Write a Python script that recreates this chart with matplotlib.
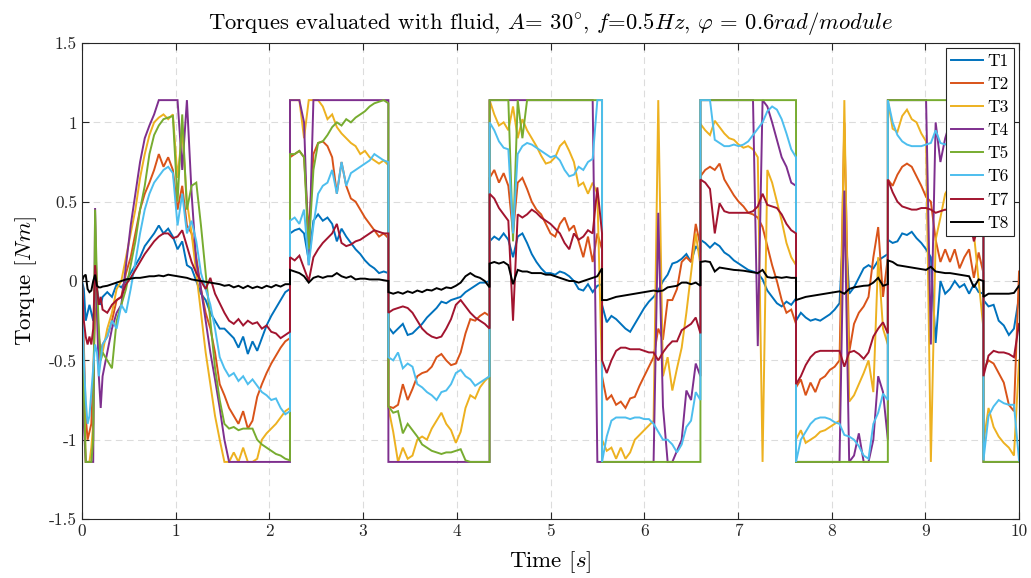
import numpy as np
import matplotlib
matplotlib.use("Agg")
import matplotlib.pyplot as plt

plt.rcParams['font.family'] = 'serif'
plt.rcParams['font.serif'] = ['cmr10', 'DejaVu Serif']
plt.rcParams['mathtext.fontset'] = 'cm'
plt.rcParams['axes.unicode_minus'] = False
plt.rcParams['axes.formatter.use_mathtext'] = True

# Segment boundaries in time [s]; each series is given as a list of segments,
# sampled uniformly between consecutive boundaries.
edges = [0, 0.22, 2.22, 3.27, 4.35, 5.55, 6.60, 7.62, 8.60, 9.62, 10.0]

T1 = [
    [0, -0.05, -0.25, -0.2, -0.15, -0.2, -0.25, -0.1, -0.05, -0.12, -0.15, -0.1],
    [-0.1, -0.07, -0.1, -0.02, -0.04, 0.0, 0.05, 0.1, 0.15, 0.22,
     0.26, 0.3, 0.35, 0.3, 0.33, 0.28, 0.2, 0.25, 0.1, 0.08,
     0.0, -0.08, -0.12, -0.2, -0.25, -0.3, -0.3, -0.33, -0.36, -0.42,
     -0.35, -0.46, -0.38, -0.44, -0.36, -0.28, -0.22, -0.17, -0.12, -0.07, -0.05],
    [0.3, 0.32, 0.33, 0.3, 0.13, 0.38, 0.42, 0.38, 0.4, 0.36,
     0.25, 0.33, 0.28, 0.24, 0.2, 0.17, 0.13, 0.1, 0.08, 0.05, 0.06, 0.05],
    [-0.29, -0.33, -0.3, -0.27, -0.34, -0.33, -0.3, -0.27, -0.23, -0.2,
     -0.17, -0.13, -0.14, -0.12, -0.11, -0.1, -0.07, -0.05, -0.03, -0.01, -0.01, 0.0],
    [0.25, 0.28, 0.26, 0.3, 0.26, 0.15, 0.28, 0.3, 0.24, 0.17,
     0.12, 0.08, 0.05, 0.05, 0.04, 0.06, 0.05, 0.03, 0.0, -0.05,
     -0.06, -0.02, -0.07, -0.03, -0.02],
    [-0.15, -0.26, -0.22, -0.24, -0.27, -0.3, -0.32, -0.27, -0.22, -0.17,
     -0.13, -0.1, -0.06, 0.0, 0.04, 0.11, 0.12, 0.14, 0.17, 0.12, 0.22, 0.18],
    [0.26, 0.24, 0.21, 0.24, 0.22, 0.18, 0.16, 0.13, 0.11, 0.09,
     0.07, 0.06, 0.05, 0.01, -0.06, -0.1, -0.14, -0.16, -0.13, -0.15, -0.11],
    [-0.25, -0.2, -0.23, -0.25, -0.24, -0.25, -0.23, -0.21, -0.18, -0.14,
     0.45, -0.08, -0.04, 0.02, 0.08, 0.1, 0.08, 0.13, 0.15, 0.17],
    [0.26, 0.24, 0.25, 0.3, 0.29, 0.31, 0.27, 0.24, 0.2, 0.15,
     -0.39, 0.0, -0.08, -0.05, 0.0, -0.04, -0.02, -0.08, -0.02, -0.07, -0.08],
    [-0.12, -0.16, -0.15, -0.25, -0.28, -0.34, -0.3, -0.1],
]

T2 = [
    [0, -0.4, -0.85, -1.0, -0.95, -0.9, -0.6, -0.2, -0.15, -0.35, -0.45, -0.4],
    [-0.4, -0.35, -0.25, -0.12, -0.1, 0.05, 0.15, 0.3, 0.45, 0.55,
     0.62, 0.7, 0.8, 0.72, 0.78, 0.7, 0.45, 0.6, 0.35, 0.3,
     0.15, -0.05, -0.2, -0.3, -0.45, -0.65, -0.72, -0.8, -0.85, -0.9,
     -0.82, -0.93, -0.88, -0.73, -0.65, -0.58, -0.52, -0.47, -0.42, -0.38, -0.36],
    [0.78, 0.8, 0.82, 0.78, 0.3, 0.8, 0.87, 0.88, 0.85, 0.78,
     0.55, 0.75, 0.6, 0.52, 0.5, 0.45, 0.4, 0.36, 0.32, 0.28, 0.3, 0.27],
    [-0.79, -0.8, -0.78, -0.65, -0.75, -0.68, -0.6, -0.58, -0.57, -0.54,
     -0.48, -0.46, -0.5, -0.53, -0.52, -0.45, -0.33, -0.24, -0.25, -0.22, -0.2, -0.22],
    [0.65, 0.7, 0.62, 0.68, 0.6, 0.3, 0.62, 0.65, 0.58, 0.5,
     0.45, 0.42, 0.36, 0.3, 0.28, 0.36, 0.4, 0.32, 0.35, 0.25,
     0.15, 0.28, 0.12, 0.3, 0.2],
    [-0.6, -0.75, -0.72, -0.78, -0.76, -0.8, -0.74, -0.73, -0.66, -0.6,
     -0.54, -0.48, -0.3, -0.37, -0.12, -0.12, -0.05, 0.12, 0.15, 0.12, 0.36, 0.22],
    [0.66, 0.7, 0.72, 0.7, 0.74, 0.64, 0.59, 0.54, 0.5, 0.47,
     0.43, 0.42, 0.4, 0.34, 0.22, 0.1, 0.0, -0.12, -0.2, -0.18, -0.27],
    [-0.67, -0.62, -0.72, -0.64, -0.7, -0.62, -0.6, -0.56, -0.54, -0.5,
     1.0, -0.45, -0.27, -0.2, -0.16, -0.1, 0.15, 0.34, -0.1, 0.15],
    [0.64, 0.6, 0.67, 0.72, 0.74, 0.72, 0.66, 0.6, 0.53, 0.5,
     0.26, 0.12, 0.2, 0.12, 0.2, 0.08, 0.15, 0.2, 0.02, 0.18, 0.05],
    [-0.56, -0.5, -0.52, -0.58, -0.64, -0.78, -0.82, 0.06],
]

T3 = [
    [0, -0.6, -1.14, -1.14, -1.14, -1.05, -0.9, 0.2, -0.1, -0.4, -0.5, -0.45],
    [-0.45, -0.3, -0.2, -0.05, 0.0, 0.15, 0.3, 0.45, 0.65, 0.8,
     0.92, 1.0, 1.03, 1.05, 1.02, 1.05, 0.65, 0.95, 0.5, 0.3,
     0.05, -0.2, -0.45, -0.65, -0.85, -1.0, -1.14, -1.14, -1.08, -1.14,
     -1.05, -1.14, -1.14, -1.12, -1.0, -0.96, -0.93, -0.9, -0.86, -0.82, -0.8],
    [1.14, 1.14, 1.14, 0.9, 1.14, 1.14, 1.14, 1.1, 1.02, 1.05,
     0.97, 0.93, 0.9, 0.87, 0.85, 0.8, 0.82, 0.78, 0.76, 0.74, 0.76, 0.73],
    [-0.8, -0.95, -1.14, -1.05, -1.12, -1.1, -1.0, -0.98, -1.0, -0.93,
     -0.88, -0.83, -0.9, -0.94, -1.02, -0.95, -0.8, -0.72, -0.74, -0.67, -0.63, -0.6],
    [1.14, 1.05, 0.98, 1.0, 0.95, 1.1, 0.9, 1.02, 0.95, 0.9,
     0.85, 0.79, 0.74, 0.75, 0.78, 0.85, 0.88, 0.82, 0.75, 0.6,
     0.62, 0.55, 0.62, 0.55, -0.6],
    [-1.0, -1.07, -1.05, -1.12, -1.05, -1.12, -1.08, -1.0, -0.97, -0.94,
     -0.91, -0.88, 1.14, -0.6, -0.48, -0.69, -0.55, -0.42, -0.2, 0.05, 0.3, 0.1],
    [0.99, 0.95, 0.92, 1.01, 0.97, 0.93, 0.9, 0.89, 0.86, 0.84,
     0.85, 0.83, 0.78, -1.14, 0.7, 0.62, 0.5, 0.38, 0.24, 0.15, 0.1],
    [-1.0, -0.94, -1.02, -1.0, -0.98, -0.95, -0.94, -0.92, -0.9, -0.88,
     1.14, -0.76, -0.72, -0.65, -0.58, -0.5, -0.7, 0.15, -0.3, -0.4],
    [1.14, 0.96, 0.94, 1.04, 1.08, 1.02, 1.0, 0.93, 0.88, -1.14,
     0.26, 0.4, 0.55, 0.6, 0.55, 0.5, 0.45, 0.4, 0.3, 0.0, -0.3],
    [-1.02, -0.8, -0.92, -0.98, -1.02, -1.05, -1.1, -0.5],
]

T4 = [
    [0, -0.9, -1.14, -1.14, -1.14, -1.14, -1.14, 0.46, -0.2, -0.6, -0.8, -0.6],
    [-0.6, -0.45, -0.3, -0.2, -0.15, 0.1, 0.35, 0.55, 0.75, 0.9,
     0.98, 1.05, 1.14, 1.14, 1.14, 1.14, 1.14, 0.7, 1.14, 0.55,
     0.12, -0.05, -0.25, -0.45, -0.62, -0.8, -1.0, -1.14] + [-1.14] * 13,
    [1.14, 1.14, 1.14, 1.0, 0.1, 1.14] + [1.14] * 16,
    [-1.14] * 22,
    [1.14] * 23 + [-1.14, -1.14],
    [-1.14] * 12 + [0.43, -0.79, -1.14, -1.14, -1.07, -1.0, -0.69, -0.75, -0.52, -0.6],
    [1.14] * 12 + [-0.41, 1.14, 1.1, 1.0, 0.89, 0.78, 0.72, 0.62, 0.6],
    [-1.14] * 10 + [0.57, -1.14, -1.1, -0.96, -1.14, -1.14, -1.0, -0.6, -0.7, -1.0],
    [1.14] * 9 + [-0.4, 1.0, 0.75, 0.9, 1.0, 1.05, 1.0, 0.95, 0.9, 0.8, 0.6, 0.5],
    [-1.14] * 8,
]

T5 = [
    [0, -0.7, -1.14, -1.14, -1.14, -1.14, -1.0, 0.45, 0.0, -0.3, -0.5, -0.45],
    [-0.45, -0.5, -0.55, -0.25, -0.15, -0.05, 0.1, 0.25, 0.45, 0.6,
     0.8, 0.92, 0.98, 1.02, 1.03, 1.04, 0.5, 1.05, 0.45, 0.6,
     0.62, 0.35, 0.05, -0.25, -0.55, -0.75, -0.9, -0.93, -0.92, -0.94,
     -0.93, -0.93, -0.93, -1.0, -1.03, -1.05, -1.07, -1.09, -1.1, -1.12, -1.13],
    [0.8, 0.8, 0.82, 0.78, 0.2, 0.7, 0.87, 0.88, 0.92, 0.97,
     1.0, 0.98, 1.02, 1.0, 1.03, 1.05, 1.07, 1.1, 1.12, 1.13, 1.14, 1.12],
    [-0.79, -0.83, -0.82, -0.96, -0.9, -0.94, -0.98, -1.03, -1.05, -1.07,
     -1.08, -1.09, -1.08, -1.08, -1.07, -1.06, -1.13, -1.14, -1.14, -1.14, -1.14, -1.14],
    [1.14] * 5 + [0.25, 1.14, 0.9] + [1.14] * 17,
    [-1.14] * 22,
    [1.14] * 21,
    [-1.14] * 20,
    [1.14] * 21,
    [-1.14] * 8,
]

T6 = [
    [0, -0.5, -0.75, -0.9, -0.85, -0.7, -0.55, -0.4, -0.45, -0.6, -0.5, -0.4],
    [-0.4, -0.35, -0.25, -0.3, -0.15, -0.2, -0.05, 0.12, 0.3, 0.45,
     0.55, 0.62, 0.66, 0.7, 0.72, 0.68, 0.35, 0.55, 0.3, 0.38,
     0.25, 0.05, -0.05, -0.15, -0.3, -0.48, -0.55, -0.6, -0.58, -0.63,
     -0.6, -0.65, -0.62, -0.66, -0.7, -0.72, -0.75, -0.74, -0.8, -0.84, -0.82],
    [0.38, 0.4, 0.36, 0.45, 0.1, 0.35, 0.55, 0.6, 0.62, 0.7,
     0.55, 0.75, 0.6, 0.68, 0.7, 0.72, 0.74, 0.76, 0.8, 0.78, 0.76, 0.75],
    [-0.48, -0.5, -0.45, -0.55, -0.52, -0.54, -0.65, -0.67, -0.7, -0.72,
     -0.75, -0.7, -0.69, -0.65, -0.58, -0.56, -0.6, -0.62, -0.66, -0.64, -0.62, -0.6],
    [1.0, 0.95, 0.88, 0.84, 0.83, 0.3, 0.8, 0.85, 0.87, 0.86,
     0.84, 0.82, 0.8, 0.78, 0.79, 0.76, 0.7, 0.66, 0.67, 0.72,
     0.7, 0.75, 0.77, 1.14, 1.14],
    [-1.14, -0.98, -0.88, -0.86, -0.86, -0.86, -0.87, -0.86, -0.86, -0.87,
     -0.87, -0.9, -0.95, -1.0, -1.0, -1.03, -1.08, -1.03, -0.92, -0.88, -0.7, -0.75],
    [1.14, 1.14, 1.14, 0.89, 0.87, 0.85, 0.85, 0.86, 0.85, 0.86,
     0.88, 0.92, 0.96, 1.0, 1.07, 1.1, 1.08, 1.02, 0.93, 0.83, 0.78],
    [-1.14, -1.0, -0.95, -0.9, -0.87, -0.86, -0.86, -0.87, -0.89, -0.9,
     -0.97, -0.98, -1.0, -1.04, -1.1, -1.12, -0.9, -0.83, -0.71, -0.75],
    [1.14, 1.0, 0.92, 0.88, 0.86, 0.85, 0.85, 0.85, 0.86, 0.87,
     0.95, 0.87, 0.86, 0.88, 0.9, 0.88, 0.87, 0.85, 0.82, 0.8, 0.78],
    [-1.13, -0.85, -0.79, -0.75, -0.77, -0.78, -0.78, -1.13],
]

T7 = [
    [0, -0.25, -0.35, -0.4, -0.35, -0.4, -0.3, 0.1, -0.05, -0.15, -0.1, -0.18],
    [-0.18, -0.2, -0.15, -0.12, -0.1, -0.02, 0.02, 0.07, 0.12, 0.17,
     0.21, 0.25, 0.28, 0.3, 0.3, 0.27, 0.28, 0.32, 0.22, 0.12,
     0.05, 0.0, -0.05, 0.02, -0.08, -0.14, -0.2, -0.25, -0.27, -0.24,
     -0.28, -0.25, -0.27, -0.26, -0.3, -0.28, -0.32, -0.33, -0.36, -0.34, -0.32],
    [0.15, 0.13, 0.16, 0.08, 0.0, 0.15, 0.2, 0.24, 0.27, 0.3,
     0.36, 0.24, 0.22, 0.23, 0.25, 0.26, 0.28, 0.3, 0.32, 0.31, 0.3, 0.3],
    [-0.2, -0.18, -0.17, -0.16, -0.17, -0.2, -0.25, -0.3, -0.33, -0.35,
     -0.36, -0.35, -0.3, -0.24, -0.15, -0.12, -0.16, -0.2, -0.23, -0.25, -0.27, -0.3],
    [0.55, 0.52, 0.46, 0.42, 0.38, -0.25, 0.42, 0.4, 0.42, 0.45,
     0.43, 0.4, 0.38, 0.36, 0.33, 0.3, 0.24, 0.2, 0.3, 0.26,
     0.28, 0.32, 0.3, 0.59, 0.3],
    [-0.5, -0.58, -0.5, -0.44, -0.42, -0.42, -0.43, -0.43, -0.43, -0.44,
     -0.45, -0.45, -0.5, -0.45, -0.41, -0.38, -0.38, -0.31, -0.29, -0.27, -0.23, -0.33],
    [0.64, 0.62, 0.58, 0.3, 0.49, 0.44, 0.43, 0.43, 0.43, 0.43,
     0.43, 0.44, 0.47, 0.55, 0.48, 0.47, 0.46, 0.42, 0.36, 0.32, 0.3],
    [-0.65, -0.6, -0.53, -0.48, -0.45, -0.44, -0.44, -0.44, -0.44, -0.44,
     -0.54, -0.45, -0.44, -0.46, -0.49, -0.45, -0.35, -0.3, -0.26, -0.33],
    [0.64, 0.56, 0.5, 0.47, 0.46, 0.45, 0.45, 0.46, 0.46, 0.45,
     0.43, 0.44, 0.45, 0.44, 0.45, 0.44, 0.42, 0.4, 0.25, 0.35, 0.3],
    [-0.6, -0.47, -0.44, -0.45, -0.45, -0.46, -0.48, -0.27],
]

T8 = [
    [0, 0.03, 0.04, -0.05, -0.07, -0.06, 0.0, 0.04, -0.03, -0.04, -0.04, -0.035],
    [-0.035, -0.03, -0.02, -0.01, 0.0, 0.01, 0.015, 0.02, 0.02, 0.025,
     0.03, 0.03, 0.035, 0.03, 0.04, 0.035, 0.03, 0.025, 0.02, 0.01,
     0.005, 0.0, -0.005, -0.01, -0.015, -0.02, -0.03, -0.025, -0.04, -0.03,
     -0.045, -0.03, -0.045, -0.035, -0.045, -0.03, -0.04, -0.025, -0.035, -0.02, -0.02],
    [0.07, 0.06, 0.05, 0.03, -0.01, 0.02, 0.03, 0.02, 0.03, 0.03,
     0.05, 0.03, 0.02, 0.03, 0.01, 0.015, 0.015, 0.01, 0.01, 0.01, 0.005, 0.0],
    [-0.07, -0.08, -0.07, -0.08, -0.065, -0.075, -0.06, -0.07, -0.055, -0.06,
     -0.045, -0.055, -0.04, -0.045, -0.03, -0.01, 0.03, 0.05, 0.03, 0.02, 0.0, -0.04],
    [0.11, 0.12, 0.11, 0.12, 0.1, -0.02, 0.07, 0.06, 0.06, 0.05,
     0.05, 0.05, 0.04, 0.04, 0.03, 0.02, 0.01, 0.0, 0.0, -0.01,
     0.0, 0.01, 0.02, 0.03, 0.08],
    [-0.12, -0.12, -0.11, -0.1, -0.095, -0.09, -0.085, -0.08, -0.075, -0.07,
     -0.065, -0.06, -0.065, -0.06, -0.04, -0.035, -0.03, -0.01, -0.01, -0.02, -0.01, -0.03],
    [0.12, 0.125, 0.12, 0.06, 0.085, 0.08, 0.075, 0.07, 0.068, 0.065,
     0.06, 0.055, 0.05, 0.07, 0.025, 0.02, 0.025, 0.02, 0.025, 0.02, 0.02],
    [-0.12, -0.11, -0.1, -0.095, -0.09, -0.085, -0.08, -0.075, -0.07, -0.065,
     -0.08, -0.05, -0.04, -0.035, -0.03, -0.028, -0.01, 0.02, -0.03, -0.02],
    [0.13, 0.12, 0.1, 0.095, 0.09, 0.085, 0.08, 0.075, 0.07, 0.09,
     0.06, 0.055, 0.05, 0.05, 0.045, 0.04, 0.035, 0.03, -0.04, 0.01, 0.0],
    [-0.1, -0.08, -0.08, -0.08, -0.08, -0.08, -0.075, -0.03],
]

series = [T1, T2, T3, T4, T5, T6, T7, T8]
labels = ['T1', 'T2', 'T3', 'T4', 'T5', 'T6', 'T7', 'T8']
colors = ['#0072BD', '#D95319', '#EDB120', '#7E2F8E',
          '#77AC30', '#4DBEEE', '#A2142F', '#000000']

xticks = list(range(0, 11))
yticks = [-1.5, -1, -0.5, 0, 0.5, 1, 1.5]
yticklabels = ['-1.5', '-1', '-0.5', '0', '0.5', '1', '1.5']


def build(segs):
    ts, ys = [], []
    for k, seg in enumerate(segs):
        ts.append(np.linspace(edges[k], edges[k + 1], len(seg)))
        ys.append(np.asarray(seg, dtype=float))
    return np.concatenate(ts), np.concatenate(ys)


fig = plt.figure(figsize=(10.31, 5.78), dpi=100)
ax = fig.add_axes([0.0795, 0.102, 0.9089, 0.8236])

for segs, lab, col in zip(series, labels, colors):
    t, y = build(segs)
    ax.plot(t, y, color=col, lw=1.4, label=lab, solid_joinstyle='miter')

ax.set_xlim(0, 10)
ax.set_ylim(-1.5, 1.5)
ax.set_xticks(xticks)
ax.set_xticklabels([str(v) for v in xticks])
ax.set_yticks(yticks)
ax.set_yticklabels(yticklabels)
ax.grid(True, color='#dcdcdc', lw=0.8, ls=(0, (6, 4)))
ax.set_axisbelow(True)
for sp in ax.spines.values():
    sp.set_color('#262626')
    sp.set_linewidth(0.8)
ax.tick_params(direction='in', length=5, width=0.8, colors='#262626',
               labelsize=12.5, top=True, right=True, labelcolor='#262626')

ax.set_xlabel(r'Time $[s]$', fontsize=16.5, labelpad=7)
ax.set_ylabel(r'Torque $[Nm]$', fontsize=16.5, labelpad=7)
ax.set_title(r'Torques evaluated with fluid, $A$= 30$^{\circ}$, $f$=0.5$Hz$, '
             r'$\varphi$ = 0.6$rad/module$', fontsize=16.3, pad=10)

leg = ax.legend(loc='upper right', fontsize=12.5, frameon=True, fancybox=False,
                edgecolor='#262626', framealpha=1, borderpad=0.3,
                labelspacing=0.45, handlelength=1.85, handletextpad=0.25,
                borderaxespad=0.3)
leg.get_frame().set_linewidth(0.8)

fig.savefig('out.png', dpi=100)
